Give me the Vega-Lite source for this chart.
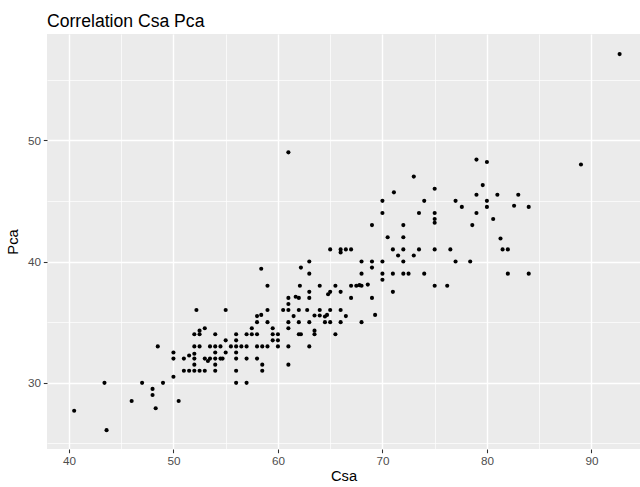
{
  "$schema": "https://vega.github.io/schema/vega-lite/v6.json",
  "width": 593,
  "height": 415,
  "autosize": {"type": "none"},
  "padding": {"left": 47, "top": 34, "right": 0, "bottom": 38},
  "background": "white",
  "config": {
    "view": {"fill": "#EBEBEB", "stroke": null},
    "font": "Liberation Sans",
    "axis": {
      "domain": false,
      "tickColor": "#333333",
      "tickSize": 3.7,
      "tickWidth": 1.07,
      "labelColor": "#4D4D4D",
      "labelFontSize": 11.7,
      "labelPadding": 2.9,
      "labelFont": "Liberation Sans",
      "titleFont": "Liberation Sans",
      "titleFontSize": 14.7,
      "titleFontWeight": "normal",
      "titleColor": "black",
      "gridColor": "white",
      "gridWidth": 1.42
    }
  },
  "title": {
    "text": "Correlation Csa Pca",
    "anchor": "start",
    "frame": "group",
    "fontSize": 17.6,
    "fontWeight": "normal",
    "color": "black",
    "font": "Liberation Sans",
    "baseline": "alphabetic",
    "offset": -11
  },
  "data": {"values": [
    {"Csa": 40.5, "Pca": 27.7}, {"Csa": 43.4, "Pca": 30}, {"Csa": 43.6, "Pca": 26.1}, {"Csa": 46, "Pca": 28.5},
    {"Csa": 47, "Pca": 30}, {"Csa": 48, "Pca": 29.5}, {"Csa": 48, "Pca": 29}, {"Csa": 48.3, "Pca": 27.9},
    {"Csa": 48.5, "Pca": 33}, {"Csa": 49, "Pca": 30}, {"Csa": 50, "Pca": 32.5}, {"Csa": 50, "Pca": 32},
    {"Csa": 50, "Pca": 30.5}, {"Csa": 50.5, "Pca": 28.5}, {"Csa": 51, "Pca": 32}, {"Csa": 51, "Pca": 31},
    {"Csa": 51.5, "Pca": 32.25}, {"Csa": 51.5, "Pca": 31},
    {"Csa": 52.2, "Pca": 36}, {"Csa": 55, "Pca": 36}, {"Csa": 53, "Pca": 34.5}, {"Csa": 52.5, "Pca": 34.3},
    {"Csa": 52.5, "Pca": 34}, {"Csa": 52, "Pca": 34}, {"Csa": 54, "Pca": 34}, {"Csa": 56, "Pca": 34},
    {"Csa": 57, "Pca": 34}, {"Csa": 57.5, "Pca": 34.5}, {"Csa": 57.5, "Pca": 34}, {"Csa": 55, "Pca": 33.5},
    {"Csa": 56, "Pca": 33.5}, {"Csa": 52, "Pca": 33}, {"Csa": 52.5, "Pca": 33}, {"Csa": 53.5, "Pca": 33},
    {"Csa": 54, "Pca": 33}, {"Csa": 54.5, "Pca": 33}, {"Csa": 55.5, "Pca": 33}, {"Csa": 56, "Pca": 33},
    {"Csa": 56.5, "Pca": 33}, {"Csa": 57, "Pca": 33}, {"Csa": 52, "Pca": 32.4}, {"Csa": 52, "Pca": 32},
    {"Csa": 53, "Pca": 32}, {"Csa": 53.3, "Pca": 31.8}, {"Csa": 53.5, "Pca": 32}, {"Csa": 54, "Pca": 32},
    {"Csa": 54.5, "Pca": 32}, {"Csa": 54.7, "Pca": 32}, {"Csa": 54, "Pca": 32.5}, {"Csa": 55, "Pca": 32.5},
    {"Csa": 56, "Pca": 32.5}, {"Csa": 56, "Pca": 32}, {"Csa": 57, "Pca": 32}, {"Csa": 52, "Pca": 31.5},
    {"Csa": 54, "Pca": 31.5}, {"Csa": 52, "Pca": 31}, {"Csa": 52.5, "Pca": 31}, {"Csa": 53, "Pca": 31},
    {"Csa": 54, "Pca": 31}, {"Csa": 56, "Pca": 31}, {"Csa": 56, "Pca": 30}, {"Csa": 57, "Pca": 30},
    {"Csa": 58.5, "Pca": 31},
    {"Csa": 69, "Pca": 43}, {"Csa": 70.5, "Pca": 42}, {"Csa": 65, "Pca": 41}, {"Csa": 66, "Pca": 41},
    {"Csa": 66, "Pca": 40.75}, {"Csa": 66.5, "Pca": 41}, {"Csa": 67, "Pca": 41}, {"Csa": 71, "Pca": 41},
    {"Csa": 71.5, "Pca": 40.5}, {"Csa": 68, "Pca": 40}, {"Csa": 69, "Pca": 40}, {"Csa": 70, "Pca": 40},
    {"Csa": 69, "Pca": 39.5}, {"Csa": 70, "Pca": 39}, {"Csa": 71, "Pca": 39}, {"Csa": 70, "Pca": 38.5},
    {"Csa": 71, "Pca": 37.5}, {"Csa": 63, "Pca": 40}, {"Csa": 62.2, "Pca": 39.5}, {"Csa": 63, "Pca": 39},
    {"Csa": 68, "Pca": 39}, {"Csa": 58.4, "Pca": 39.4}, {"Csa": 59, "Pca": 38}, {"Csa": 62.1, "Pca": 38},
    {"Csa": 64, "Pca": 38}, {"Csa": 65.5, "Pca": 38}, {"Csa": 67, "Pca": 38}, {"Csa": 67.5, "Pca": 38},
    {"Csa": 67.8, "Pca": 38.05}, {"Csa": 68, "Pca": 38}, {"Csa": 68.6, "Pca": 38.1}, {"Csa": 63, "Pca": 37.5},
    {"Csa": 65, "Pca": 37.5}, {"Csa": 64.8, "Pca": 37.3}, {"Csa": 66, "Pca": 37.5}, {"Csa": 61, "Pca": 37},
    {"Csa": 61, "Pca": 36.5}, {"Csa": 61.7, "Pca": 37.1}, {"Csa": 62, "Pca": 37}, {"Csa": 63, "Pca": 37},
    {"Csa": 67, "Pca": 37}, {"Csa": 69, "Pca": 37}, {"Csa": 59, "Pca": 36}, {"Csa": 60.5, "Pca": 36},
    {"Csa": 61, "Pca": 36}, {"Csa": 62, "Pca": 36}, {"Csa": 62.8, "Pca": 36}, {"Csa": 64, "Pca": 36},
    {"Csa": 65, "Pca": 36}, {"Csa": 66, "Pca": 36}, {"Csa": 58, "Pca": 35.5}, {"Csa": 58.4, "Pca": 35.6},
    {"Csa": 61.5, "Pca": 35.5}, {"Csa": 63.5, "Pca": 35.55}, {"Csa": 64, "Pca": 35.55}, {"Csa": 64.5, "Pca": 35.47},
    {"Csa": 64.7, "Pca": 35.6}, {"Csa": 66.5, "Pca": 35.5}, {"Csa": 69.3, "Pca": 35.6}, {"Csa": 58, "Pca": 35},
    {"Csa": 59, "Pca": 35}, {"Csa": 61, "Pca": 35}, {"Csa": 62, "Pca": 35}, {"Csa": 63, "Pca": 35},
    {"Csa": 64.5, "Pca": 35}, {"Csa": 65, "Pca": 35}, {"Csa": 66, "Pca": 35}, {"Csa": 68, "Pca": 35},
    {"Csa": 59.5, "Pca": 34.5}, {"Csa": 61, "Pca": 34.5}, {"Csa": 63.5, "Pca": 34.3}, {"Csa": 63.5, "Pca": 34},
    {"Csa": 58, "Pca": 34}, {"Csa": 59.5, "Pca": 34}, {"Csa": 60, "Pca": 34}, {"Csa": 62, "Pca": 34},
    {"Csa": 62.2, "Pca": 34}, {"Csa": 65.5, "Pca": 34}, {"Csa": 59.5, "Pca": 33.5}, {"Csa": 60, "Pca": 33.5},
    {"Csa": 58, "Pca": 33}, {"Csa": 58.5, "Pca": 33}, {"Csa": 59, "Pca": 33}, {"Csa": 60, "Pca": 33},
    {"Csa": 61, "Pca": 33}, {"Csa": 63, "Pca": 33}, {"Csa": 58, "Pca": 32}, {"Csa": 58.5, "Pca": 31.5},
    {"Csa": 61, "Pca": 31.5},
    {"Csa": 73, "Pca": 47}, {"Csa": 75, "Pca": 46}, {"Csa": 71.1, "Pca": 45.7}, {"Csa": 70, "Pca": 45},
    {"Csa": 74, "Pca": 45}, {"Csa": 77, "Pca": 45}, {"Csa": 77.6, "Pca": 44.5}, {"Csa": 79, "Pca": 45.5},
    {"Csa": 79.6, "Pca": 46.3}, {"Csa": 80, "Pca": 45}, {"Csa": 80, "Pca": 44.5}, {"Csa": 81, "Pca": 45.5},
    {"Csa": 80.6, "Pca": 43.5}, {"Csa": 79, "Pca": 44}, {"Csa": 78.6, "Pca": 43}, {"Csa": 81.3, "Pca": 41.9},
    {"Csa": 70, "Pca": 44}, {"Csa": 73.5, "Pca": 44}, {"Csa": 75, "Pca": 44}, {"Csa": 75, "Pca": 43.5},
    {"Csa": 75, "Pca": 43.2}, {"Csa": 73.5, "Pca": 41}, {"Csa": 75, "Pca": 41}, {"Csa": 76.5, "Pca": 41},
    {"Csa": 73, "Pca": 40.5}, {"Csa": 77, "Pca": 40}, {"Csa": 78.4, "Pca": 40}, {"Csa": 72.5, "Pca": 39},
    {"Csa": 74, "Pca": 39}, {"Csa": 75, "Pca": 38}, {"Csa": 76.2, "Pca": 38}, {"Csa": 72, "Pca": 43},
    {"Csa": 72, "Pca": 42}, {"Csa": 72, "Pca": 41}, {"Csa": 72, "Pca": 40}, {"Csa": 72, "Pca": 39},
    {"Csa": 79, "Pca": 48.4}, {"Csa": 80, "Pca": 48.2}, {"Csa": 89, "Pca": 48}, {"Csa": 83, "Pca": 45.5},
    {"Csa": 82.6, "Pca": 44.6}, {"Csa": 84, "Pca": 44.5}, {"Csa": 81.5, "Pca": 41}, {"Csa": 82, "Pca": 41},
    {"Csa": 82, "Pca": 39}, {"Csa": 84, "Pca": 39},
    {"Csa": 92.7, "Pca": 57.1}, {"Csa": 61, "Pca": 49}
  ]},
  "layer": [
    {
      "mark": {"type": "circle", "opacity": 0},
      "encoding": {
        "x": {"field": "Csa", "type": "quantitative",
          "scale": {"domain": [37.9, 94.65], "nice": false, "zero": false},
          "axis": {"orient": "bottom", "values": [45, 55, 65, 75, 85], "grid": true, "gridWidth": 0.71, "labels": false, "ticks": false, "title": null}},
        "y": {"field": "Pca", "type": "quantitative",
          "scale": {"domain": [24.545, 58.755], "nice": false, "zero": false},
          "axis": {"orient": "left", "values": [25, 35, 45, 55], "grid": true, "gridWidth": 0.71, "labels": false, "ticks": false, "title": null}}
      }
    },
    {
      "mark": {"type": "circle", "size": 17, "color": "black", "opacity": 1},
      "encoding": {
        "x": {"field": "Csa", "type": "quantitative",
          "axis": {"orient": "bottom", "values": [40, 50, 60, 70, 80, 90], "grid": true, "title": "Csa", "titlePadding": 1.5}},
        "y": {"field": "Pca", "type": "quantitative",
          "axis": {"orient": "left", "values": [30, 40, 50], "grid": true, "title": "Pca", "titlePadding": 7}}
      }
    }
  ],
  "resolve": {"axis": {"x": "independent", "y": "independent"}}
}
